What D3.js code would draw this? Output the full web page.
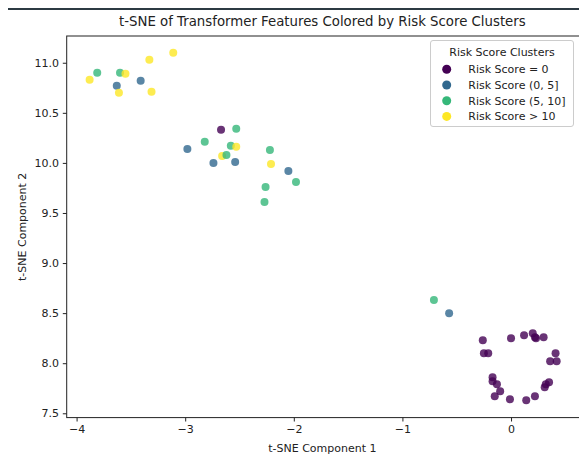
<!DOCTYPE html>
<html>
<head>
<meta charset="utf-8">
<script src="https://cdn.jsdelivr.net/npm/d3@7"></script>
<style>
  body { margin: 0; background: #fff; }
  text { font-family: "DejaVu Sans", sans-serif; fill: #222; }
</style>
</head>
<body>
<script>
// t-SNE points
var compX = [-3.88, -3.81, -3.60, -3.55, -3.63, -3.61, -3.41, -3.33, -3.31, -3.11,
             -2.67, -2.53, -2.82, -2.98, -2.58, -2.53, -2.66, -2.62, -2.74, -2.54,
             -2.22, -2.21, -2.05, -1.98, -2.26, -2.27,
             -0.71, -0.57,
             -0.26, -0.25, -0.21, 0.00, 0.12, 0.20, 0.22, 0.23, 0.30, 0.41, 0.36, 0.42,
             -0.17, -0.17, -0.13, -0.10, -0.15, -0.01, 0.14, 0.22, 0.31, 0.32, 0.35];
var compY = [10.83, 10.90, 10.90, 10.89, 10.77, 10.70, 10.82, 11.03, 10.71, 11.10,
             10.33, 10.34, 10.21, 10.14, 10.17, 10.16, 10.07, 10.08, 10.00, 10.01,
             10.13, 9.99, 9.92, 9.81, 9.76, 9.61,
             8.63, 8.50,
             8.23, 8.10, 8.10, 8.25, 8.28, 8.30, 8.26, 8.25, 8.26, 8.10, 8.02, 8.02,
             7.86, 7.82, 7.79, 7.72, 7.67, 7.64, 7.63, 7.67, 7.76, 7.79, 7.81];
var cluster = [3, 2, 2, 3, 1, 3, 1, 3, 3, 3,
               0, 2, 2, 1, 2, 3, 3, 2, 1, 1,
               2, 3, 1, 2, 2, 2,
               2, 1,
               0, 0, 0, 0, 0, 0, 0, 0, 0, 0, 0, 0,
               0, 0, 0, 0, 0, 0, 0, 0, 0, 0, 0];

var legendLabels = ["Risk Score = 0", "Risk Score (0, 5]", "Risk Score (5, 10]", "Risk Score > 10"];
var clusterColors = ["#440154", "#31688e", "#35b779", "#fde725"];
var xTicks = [-4, -3, -2, -1, 0];
var yTicks = [7.5, 8.0, 8.5, 9.0, 9.5, 10.0, 10.5, 11.0];

var width = 579, height = 454;
var plotLeft = 66.7, plotRight = 580, plotTop = 36, plotBottom = 417.6;

var svg = d3.select("body").append("svg")
    .attr("width", width)
    .attr("height", height);

// dark bar from the notebook screenshot
svg.append("rect")
    .attr("x", 8).attr("y", 8)
    .attr("width", width - 8).attr("height", 2)
    .attr("fill", "#2c3a43");

var x = d3.scaleLinear().domain([-4.091, 0.635]).range([plotLeft, plotRight]);
var y = d3.scaleLinear().domain([7.457, 11.267]).range([plotBottom, plotTop]);

var points = compX.map(function(d, i) { return {x: d, y: compY[i], c: cluster[i]}; });

svg.append("g").selectAll("circle")
    .data(points)
    .enter()
      .append("circle")
      .attr("cx", function(d) { return x(d.x); })
      .attr("cy", function(d) { return y(d.y); })
      .attr("r", 4)
      .attr("fill", function(d) { return clusterColors[d.c]; })
      .attr("fill-opacity", 0.8);

// frame
svg.append("rect")
    .attr("x", plotLeft).attr("y", plotTop)
    .attr("width", plotRight - plotLeft).attr("height", plotBottom - plotTop)
    .attr("fill", "none")
    .attr("stroke", "#222")
    .attr("stroke-width", 1);

var xAxis = d3.axisBottom(x).tickValues(xTicks).tickSize(3.9).tickPadding(3.9).tickFormat(d3.format("d"));
var yAxis = d3.axisLeft(y).tickValues(yTicks).tickSize(3.9).tickPadding(3.9).tickFormat(d3.format(".1f"));

var gx = svg.append("g").attr("transform", "translate(0," + plotBottom + ")").call(xAxis);
var gy = svg.append("g").attr("transform", "translate(" + plotLeft + ",0)").call(yAxis);
[gx, gy].forEach(function(g) {
  g.select(".domain").remove();
  g.selectAll(".tick line").attr("stroke", "#222");
  g.selectAll(".tick text").attr("font-size", 11).attr("font-family", "DejaVu Sans").attr("fill", "#222");
});

svg.append("text")
    .attr("x", (plotLeft + plotRight) / 2 - 1).attr("y", 25.5)
    .attr("text-anchor", "middle")
    .attr("font-size", 13.3)
    .text("t-SNE of Transformer Features Colored by Risk Score Clusters");

svg.append("text")
    .attr("x", (plotLeft + plotRight) / 2 - 1).attr("y", 451.5)
    .attr("text-anchor", "middle")
    .attr("font-size", 11)
    .text("t-SNE Component 1");

svg.append("text")
    .attr("transform", "translate(26," + (plotTop + plotBottom) / 2 + ") rotate(-90)")
    .attr("text-anchor", "middle")
    .attr("font-size", 11)
    .text("t-SNE Component 2");

// legend
var legend = svg.append("g");
legend.append("rect")
    .attr("x", 430.5).attr("y", 40.5)
    .attr("width", 143).attr("height", 86)
    .attr("rx", 2.5)
    .attr("fill", "#fff").attr("fill-opacity", 0.8)
    .attr("stroke", "#ccc");
legend.append("text")
    .attr("x", 502).attr("y", 51.7)
    .attr("dy", "0.35em")
    .attr("text-anchor", "middle")
    .attr("font-size", 11)
    .text("Risk Score Clusters");

var rows = legend.selectAll("g.row")
    .data(legendLabels)
    .enter()
      .append("g")
      .attr("class", "row")
      .attr("transform", function(d, i) { return "translate(0," + (69.3 + i * 15.7) + ")"; });
rows.append("circle")
    .attr("cx", 446.7).attr("r", 4.5)
    .attr("fill", function(d, i) { return clusterColors[i]; });
rows.append("text")
    .attr("x", 468.3).attr("dy", "0.35em")
    .attr("font-size", 11)
    .text(function(d) { return d; });
</script>
</body>
</html>
